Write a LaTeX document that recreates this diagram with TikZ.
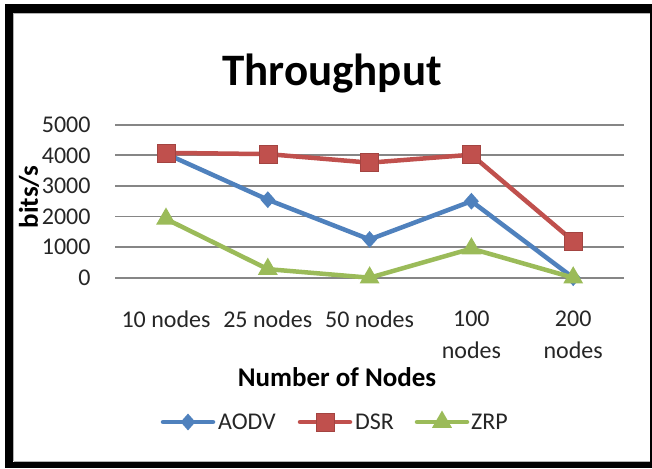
\documentclass[tikz,border=0pt]{standalone}
\usepackage{fontspec}
\setmainfont{Carlito}
\usepackage{tikz}
\usetikzlibrary{positioning, calc, shapes.geometric}

\definecolor{aodvblue}{HTML}{4F81BD}
\definecolor{dsrred}{HTML}{C0504D}
\definecolor{zrpgreen}{HTML}{9BBB59}
\definecolor{gridgray}{HTML}{868686}

\begin{document}
\begin{tikzpicture}[x=1pt, y=-1pt,
  grid line/.style={draw=gridgray, line width=1.8pt},
  tick label/.style={font=\fontsize{24}{24}\selectfont, text=black!85, anchor=east, inner sep=0pt},
  cat label/.style={font=\fontsize{24}{31.5}\selectfont, text=black!85, align=center, anchor=north, inner sep=0pt},
  axis title/.style={font=\fontsize{27}{27}\selectfont\bfseries, inner sep=0pt},
  legend text/.style={font=\fontsize{24}{24}\selectfont, text=black!85, anchor=west, inner sep=0pt},
  series/.style={line width=4.5pt, line cap=round, line join=round},
  aodv line/.style={series, draw=aodvblue},
  dsr line/.style={series, draw=dsrred},
  zrp line/.style={series, draw=zrpgreen},
  aodv mark/.style={diamond, fill=aodvblue, inner sep=0pt, minimum width=15pt, minimum height=17pt},
  dsr mark/.style={rectangle, fill=dsrred, draw=dsrred!85!black, line width=0.6pt, inner sep=0pt, minimum size=18pt},
  zrp mark/.style={regular polygon, regular polygon sides=3, fill=zrpgreen, inner sep=0pt, minimum size=23pt}]

% frame
\useasboundingbox (0,0) rectangle (652,468);
\fill[white] (0,0) rectangle (652,468);
\fill[black] (5,4) rectangle (651.5,468);
\fill[white] (13,13) rectangle (650,461.5);
\draw[gray!60, line width=1pt] (13.5,461) -- (13.5,13.5) -- (650,13.5);
\draw[gray!60, line width=1pt] (13.5,461) -- (650,461);

\node[font=\fontsize{45}{45}\selectfont\bfseries, anchor=base] (title) at (332,85) {Throughput};

% grid and y ticks
\foreach \v in {0,1000,...,5000} {
  \coordinate (gl\v) at (115,{277.7-0.0306*\v});
  \coordinate (gr\v) at (624,{277.7-0.0306*\v});
  \draw[grid line] (gl\v) -- (gr\v);
  \node[tick label] (tick\v) at (90.7,{277.7-0.0306*\v}) {\v};
}
\node[axis title, rotate=90] (ytitle) at (29,197) {bits/s};

% categories
\foreach \lab [count=\i] in {10 nodes, 25 nodes, 50 nodes, {100\\nodes}, {200\\nodes}}
  \node[cat label] (cat\i) at ({166+101.8*(\i-1)},311) {\lab};
\node[axis title, anchor=base] (xtitle) at (337,386.5) {Number of Nodes};

% data points
\foreach \v [count=\i] in {4050,2550,1250,2500,0}
  \coordinate (a\i) at ({166+101.8*(\i-1)},{277.7-0.0306*\v});
\foreach \v [count=\i] in {4080,4040,3760,4020,1200}
  \coordinate (d\i) at ({166+101.8*(\i-1)},{277.7-0.0306*\v});
\foreach \v [count=\i] in {1920,280,0,950,0}
  \coordinate (z\i) at ({166+101.8*(\i-1)},{277.7-0.0306*\v});

% series
\draw[aodv line] (a1) -- (a2) -- (a3) -- (a4) -- (a5);
\foreach \i in {1,...,5} \node[aodv mark] (am\i) at (a\i) {};
\draw[dsr line] (d1) -- (d2) -- (d3) -- (d4) -- (d5);
\foreach \i in {1,...,5} \node[dsr mark] (dm\i) at (d\i) {};
\draw[zrp line] (z1) -- (z2) -- (z3) -- (z4) -- (z5);
\foreach \i in {1,...,5} \node[zrp mark] (zm\i) at (z\i) {};

% legend
\coordinate (la1) at (163,422);
\coordinate (la2) at (213,422);
\draw[aodv line] (la1) -- (la2);
\node[aodv mark] (lam) at ($(la1)!0.5!(la2)$) {};
\node[legend text, right=5pt of la2] (lat) {AODV};
\coordinate (ld1) at (300,422);
\coordinate (ld2) at (350,422);
\draw[dsr line] (ld1) -- (ld2);
\node[dsr mark] (ldm) at ($(ld1)!0.5!(ld2)$) {};
\node[legend text, right=5pt of ld2] (ldt) {DSR};
\coordinate (lz1) at (417,422);
\coordinate (lz2) at (467,422);
\draw[zrp line] (lz1) -- (lz2);
\node[zrp mark] (lzm) at ($(lz1)!0.5!(lz2)$) {};
\node[legend text, right=4pt of lz2] (lzt) {ZRP};
\end{tikzpicture}
\end{document}
